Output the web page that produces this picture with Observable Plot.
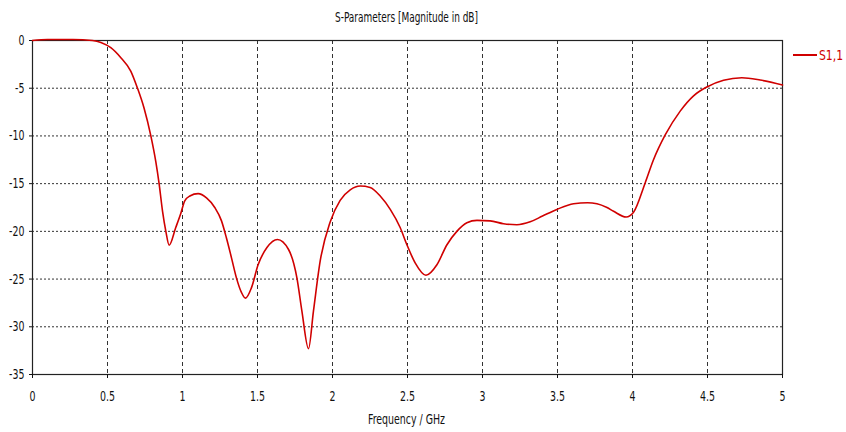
<!DOCTYPE html>
<html>
<head>
<meta charset="utf-8">
<script src="https://cdn.jsdelivr.net/npm/d3@7"></script>
<script src="https://cdn.jsdelivr.net/npm/@observablehq/plot@0.6"></script>
<style>
  html, body { margin: 0; padding: 0; background: #fff; }
  #chart svg { display: block; }
</style>
</head>
<body>
<div id="chart"></div>
<script>
const title = "S-Parameters [Magnitude in dB]";
const xLabel = "Frequency / GHz";
const seriesName = "S1,1";
const xTicks = [0, 0.5, 1, 1.5, 2, 2.5, 3, 3.5, 4, 4.5, 5];
const yTicks = [-35, -30, -25, -20, -15, -10, -5, 0];

const freq = [0.00, 0.10, 0.27, 0.40, 0.456, 0.522, 0.589, 0.655, 0.70, 0.744, 0.789, 0.822, 0.844, 0.867, 0.889, 0.911, 0.955, 0.989, 1.015, 1.049, 1.104, 1.16, 1.215, 1.26, 1.293, 1.327, 1.36, 1.393, 1.42, 1.46, 1.504, 1.563, 1.633, 1.707, 1.763, 1.796, 1.84, 1.873, 1.918, 1.985, 2.051, 2.118, 2.185, 2.251, 2.318, 2.385, 2.451, 2.496, 2.551, 2.623, 2.696, 2.763, 2.829, 2.896, 2.963, 3.051, 3.14, 3.229, 3.318, 3.40, 3.496, 3.607, 3.70, 3.763, 3.83, 3.874, 3.958, 4.007, 4.085, 4.14, 4.218, 4.318, 4.407, 4.496, 4.607, 4.729, 4.851, 5.0];
const s11 = [0.0, 0.1, 0.1, 0.0, -0.2, -0.75, -1.8, -3.2, -5.0, -7.1, -10.0, -12.7, -15.0, -17.9, -20.0, -21.45, -19.6, -18.1, -16.8, -16.3, -16.05, -16.5, -17.5, -18.9, -20.7, -22.8, -24.9, -26.4, -27.0, -25.9, -23.5, -21.7, -20.85, -21.9, -24.9, -28.35, -32.3, -28.35, -23.1, -19.0, -16.75, -15.65, -15.25, -15.4, -16.3, -17.7, -19.6, -21.4, -23.3, -24.6, -23.5, -21.4, -20.0, -19.1, -18.85, -18.9, -19.2, -19.3, -19.0, -18.4, -17.7, -17.1, -17.0, -17.1, -17.5, -17.9, -18.5, -18.0, -14.9, -12.5, -9.9, -7.4, -5.8, -4.87, -4.17, -3.9, -4.14, -4.66];

const data = freq.map((f, i) => ({f, v: s11[i]}));
const FONT = "'DejaVu Sans Condensed', 'Liberation Sans Narrow', sans-serif";
const RED = "#d00000";

const plot = Plot.plot({
  width: 846,
  height: 432,
  marginLeft: 32,
  marginRight: 64,
  marginTop: 40,
  marginBottom: 58,
  style: {fontFamily: FONT, fontSize: "14px", color: "#111", background: "#fff"},
  x: {domain: [0, 5]},
  y: {domain: [-35, 0]},
  marks: [
    Plot.ruleX(xTicks.filter(d => d > 0 && d < 5), {stroke: "#333", strokeDasharray: "4,3", strokeWidth: 1}),
    Plot.ruleY(yTicks.filter(d => d > -35 && d < 0), {stroke: "#333", strokeDasharray: "2,2", strokeWidth: 1}),
    Plot.frame({stroke: "#222", strokeWidth: 1.2}),
    Plot.axisX({ticks: xTicks, tickSize: 4, tickPadding: 13, tickFormat: d => String(d), label: null}),
    Plot.axisY({ticks: yTicks, tickSize: 3, tickPadding: 5, tickFormat: d => String(d), label: null}),
    Plot.line(data, {x: "f", y: "v", stroke: RED, strokeWidth: 1.6, curve: "monotone-x"})
  ]
});

document.getElementById("chart").appendChild(plot);
const svg = d3.select(plot);

// compress tick labels horizontally to mimic the narrow font of the reference
svg.selectAll("g[aria-label='x-axis tick label'] text, g[aria-label='y-axis tick label'] text").each(function () {
  const w = this.getComputedTextLength();
  if (w > 0) {
    this.setAttribute("textLength", (w * 0.75).toFixed(1));
    this.setAttribute("lengthAdjust", "spacingAndGlyphs");
  }
});

function addText(x, y, str, size, fill, anchor, len) {
  const t = svg.append("text")
    .attr("x", x).attr("y", y)
    .attr("text-anchor", anchor)
    .style("font-family", FONT).style("font-size", size + "px").attr("fill", fill)
    .text(str);
  if (len) t.attr("textLength", len).attr("lengthAdjust", "spacingAndGlyphs");
  return t;
}
addText(406.5, 22, title, 14, "#111", "middle", 143);
addText(406.5, 424, xLabel, 14, "#111", "middle", 77);
svg.append("line")
  .attr("x1", 793).attr("x2", 817).attr("y1", 55).attr("y2", 55)
  .attr("stroke", RED).attr("stroke-width", 2);
addText(819, 60, seriesName, 14, RED, "start", 24);
</script>
</body>
</html>
